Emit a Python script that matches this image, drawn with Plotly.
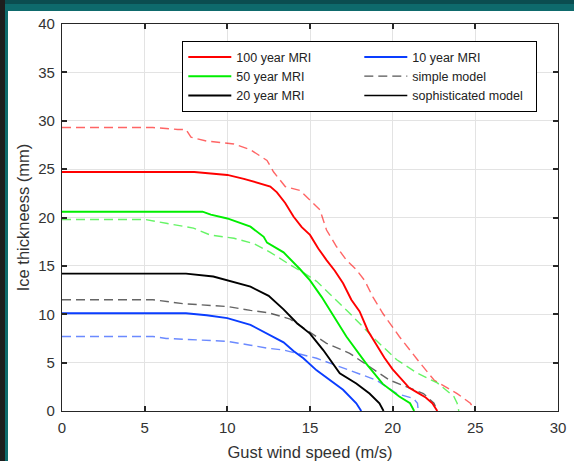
import plotly.graph_objects as go

# ---- data: ice thickness (mm) vs gust wind speed (m/s) ----
# sophisticated model
mri100_x = [0, 8, 9, 10, 11, 12, 12.6, 13.0, 13.5, 14.0, 14.5, 15.0, 15.5, 16.0, 16.5, 17.0, 17.5, 18.0, 18.5, 19.0, 19.5, 20.0, 20.5, 21.0, 21.5, 22.0, 22.4, 22.7]
mri100_y = [24.7, 24.7, 24.55, 24.4, 24.0, 23.5, 23.2, 22.6, 21.5, 20.1, 19.0, 18.2, 16.8, 15.6, 14.5, 13.2, 11.5, 10.3, 8.3, 6.9, 5.5, 4.3, 3.3, 2.4, 1.9, 1.4, 0.8, 0]

mri50_x = [0, 8.5, 9.0, 10.0, 11.4, 12.2, 12.4, 13.4, 14.4, 15.0, 15.7, 16.2, 17.2, 18.4, 19.4, 20.4, 21.05, 21.3]
mri50_y = [20.6, 20.6, 20.3, 19.9, 19.05, 18.0, 17.4, 16.4, 14.65, 13.5, 11.8, 10.4, 7.7, 4.9, 2.8, 1.5, 0.8, 0]

mri20_x = [0, 7.5, 9.15, 10.0, 11.4, 12.5, 13.4, 14.2, 15.0, 15.8, 16.8, 17.8, 18.6, 19.2, 19.45]
mri20_y = [14.2, 14.2, 13.9, 13.5, 12.85, 11.9, 10.5, 9.1, 8.0, 6.3, 3.9, 2.85, 1.8, 0.8, 0]

mri10_x = [0, 7.5, 8.75, 10.0, 11.4, 12.5, 13.4, 14.0, 14.6, 15.4, 16.2, 17.0, 17.8, 18.1]
mri10_y = [10.1, 10.1, 9.9, 9.6, 8.9, 7.9, 7.1, 6.2, 5.45, 4.2, 3.2, 2.2, 0.8, 0]

# simple model
s100_x = [0, 5.5, 7.0, 7.5, 7.8, 8.75, 10.4, 11.4, 12.4, 12.8, 13.5, 14.4, 15.0, 15.6, 16.0, 16.6, 17.2, 17.8, 18.3, 18.8, 19.4, 20.4, 21.5, 22.5, 23.9, 24.7, 25.0]
s100_y = [29.3, 29.3, 29.1, 29.1, 28.3, 27.9, 27.6, 27.0, 25.9, 24.7, 23.2, 22.8, 21.8, 20.8, 18.7, 17.0, 15.6, 14.6, 13.5, 11.8, 10.1, 7.7, 5.3, 3.2, 1.8, 0.8, 0]

s50_x = [0, 5.0, 6.3, 7.95, 8.95, 10.4, 11.6, 12.6, 13.8, 14.6, 15.4, 16.4, 17.4, 19.0, 20.25, 21.5, 22.7, 23.7, 23.9, 24.0]
s50_y = [19.8, 19.8, 19.4, 18.9, 18.2, 17.85, 17.3, 16.4, 15.1, 14.3, 13.4, 11.8, 10.1, 7.3, 5.3, 3.9, 2.9, 1.5, 0.8, 0]

s20_x = [0, 5.5, 7.3, 10.0, 11.4, 12.5, 13.8, 14.8, 16.0, 17.4, 18.6, 19.8, 20.85, 21.86, 22.5, 22.7]
s20_y = [11.5, 11.5, 11.1, 10.8, 10.4, 10.15, 9.5, 8.4, 7.0, 5.96, 4.6, 3.2, 2.5, 1.8, 0.8, 0]

s10_x = [0, 5.5, 6.3, 10.0, 11.4, 12.4, 13.4, 15.4, 17.4, 19.0, 20.25, 21.25, 21.5, 21.55]
s10_y = [7.7, 7.7, 7.5, 7.2, 6.8, 6.5, 6.3, 5.45, 4.2, 3.2, 1.8, 1.3, 0.8, 0]

x_ticks = [0, 5, 10, 15, 20, 25, 30]
y_ticks = [0, 5, 10, 15, 20, 25, 30, 35, 40]

RED, GREEN, BLACK, BLUE = "#ff0000", "#00ee00", "#000000", "#0a3dff"
DASH = "9px,5px"
FONT = "Liberation Sans, Arial, Helvetica"

fig = go.Figure()

# dashed simple-model curves (drawn first, lighter)
for xs, ys, c in [(s100_x, s100_y, RED), (s50_x, s50_y, GREEN),
                  (s20_x, s20_y, BLACK), (s10_x, s10_y, BLUE)]:
    fig.add_trace(go.Scatter(x=xs, y=ys, mode="lines", showlegend=False,
                             opacity=0.6, hoverinfo="skip",
                             line=dict(color=c, width=1.4, dash=DASH)))

# legend order (horizontal, two per row)
fig.add_trace(go.Scatter(x=mri100_x, y=mri100_y, mode="lines", name="100 year MRI",
                         line=dict(color=RED, width=1.9)))
fig.add_trace(go.Scatter(x=mri10_x, y=mri10_y, mode="lines", name="10 year MRI",
                         line=dict(color=BLUE, width=1.9)))
fig.add_trace(go.Scatter(x=mri50_x, y=mri50_y, mode="lines", name="50 year MRI",
                         line=dict(color=GREEN, width=1.9)))
fig.add_trace(go.Scatter(x=[None], y=[None], mode="lines", name="simple model",
                         line=dict(color="#555555", width=1.2, dash=DASH)))
fig.add_trace(go.Scatter(x=mri20_x, y=mri20_y, mode="lines", name="20 year MRI",
                         line=dict(color=BLACK, width=1.9)))
fig.add_trace(go.Scatter(x=[None], y=[None], mode="lines", name="sophisticated model",
                         line=dict(color=BLACK, width=1.5)))

# page frame: dark strip on the left, teal band along the top and left edge
L, R, T, B = 62, 558, 24, 411
W, H = R - L, B - T
def px(v):
    return (v - L) / W
def py(v):
    return (B - v) / H

frame = [
    (0, 574, 0, 4, "#0b4d50"),
    (0, 574, 4, 11, "#0e6a6c"),
    (0, 5, 0, 461, "#1e1e1e"),
    (5, 8, 11, 461, "#0e6a6c"),
]
shapes = []
for x0, x1, y0, y1, c in frame:
    shapes.append(dict(type="rect", xref="paper", yref="paper",
                       x0=px(x0), x1=px(x1), y0=py(y1), y1=py(y0),
                       fillcolor=c, line=dict(width=0), layer="below"))

axis_common = dict(
    automargin=False,
    showline=True, linecolor="#262626", linewidth=1.2, mirror="ticks",
    ticks="inside", ticklen=5, tickwidth=1.5, tickcolor="#262626",
    showgrid=True, gridcolor="#e3e3e3", gridwidth=1, zeroline=False,
    tickfont=dict(family=FONT, size=15, color="#333333"),
)

fig.update_layout(
    width=574, height=461,
    margin=dict(l=L, r=574 - R, t=T, b=461 - B, autoexpand=False),
    paper_bgcolor="white", plot_bgcolor="white",
    shapes=shapes,
    font=dict(family=FONT, color="#333333"),
    xaxis=dict(range=[0, 30], tickvals=x_ticks, ticklabelstandoff=3,
               title=dict(text="Gust wind speed (m/s)", font=dict(size=16.5), standoff=11),
               **axis_common),
    yaxis=dict(range=[0, 40], tickvals=y_ticks, ticklabelstandoff=3,
               title=dict(text="Ice thickneess (mm)", font=dict(size=16.5), standoff=4),
               **axis_common),
    legend=dict(orientation="h", x=px(182), y=py(41), xanchor="left", yanchor="top",
                bgcolor="white", bordercolor="#000000", borderwidth=1.3,
                itemwidth=43, entrywidth=118, entrywidthmode="pixels", tracegroupgap=0,
                font=dict(family=FONT, size=12.5, color="#222222")),
)

fig.write_html("out.html")
